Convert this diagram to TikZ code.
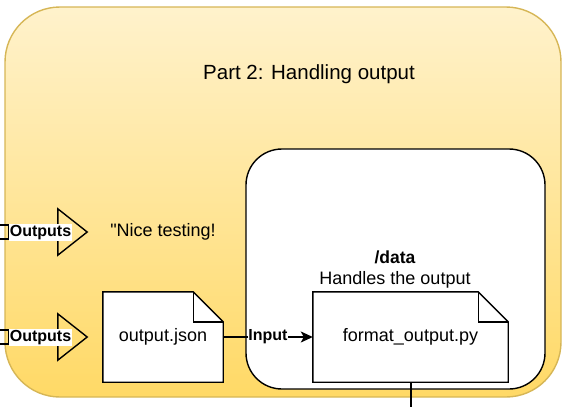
\documentclass[tikz,border=0pt]{standalone}
\usepackage{fontspec}
\setmainfont{Liberation Sans}[Ligatures=TeXOff]
\usetikzlibrary{arrows.meta,calc}
\definecolor{ybd}{HTML}{D6B656}
\definecolor{ytop}{HTML}{FFF2CC}
\definecolor{ybot}{HTML}{FFD966}
\tikzset{
  ln/.style={line width=1.4pt, draw=black},
  docbox/.style={rectangle, draw=none, minimum width=#1, minimum height=90, inner sep=0pt, font=\fontsize{18}{20}\selectfont},
  tribox/.style={rectangle, draw=none, minimum width=29, minimum height=46, inner sep=0pt},
  lbl/.style={fill=white, inner sep=1pt, font=\bfseries\fontsize{16}{18}\selectfont},
  plain/.style={inner sep=0pt, font=\fontsize{18}{20}\selectfont},
}
\begin{document}
\begin{tikzpicture}[x=1pt,y=-1pt]
\useasboundingbox (0,0) rectangle (572,407);
% outer container
\draw[draw=ybd, line width=1.4pt, top color=ytop, bottom color=ybot, rounded corners=55] (5,7) rectangle (561,397);
\node[plain, font=\fontsize{20.5}{22}\selectfont] (title) at (309,74) {Part 2: Handling output};
% inner box
\draw[ln, fill=white, rounded corners=36] (246,149) rectangle (545,389);
\node[plain, font=\bfseries\fontsize{17.5}{20}\selectfont] (data) at (395,257) {/data};
\node[plain] (handles) at (395,280) {Handles the output};
% triangles
\node[tribox] (tri1) at (72.5,232) {};
\node[tribox] (tri2) at (72.5,337) {};
\draw[ln, line join=miter] (tri1.north west) -- (tri1.east) -- (tri1.south west) -- cycle;
\draw[ln, line join=miter] (tri2.north west) -- (tri2.east) -- (tri2.south west) -- cycle;
% left brackets
\coordinate (b1a) at (0,225); \coordinate (b1b) at (8.5,225); \coordinate (b1c) at (8.5,239); \coordinate (b1d) at (0,239);
\draw[ln, line width=1.2pt] (b1a) -- (b1b) -- (b1c) -- (b1d);
\coordinate (b2a) at (0,330); \coordinate (b2b) at (8.5,330); \coordinate (b2c) at (8.5,344); \coordinate (b2d) at (0,344);
\draw[ln, line width=1.2pt] (b2a) -- (b2b) -- (b2c) -- (b2d);
\node[lbl] (out1) at (40.5,232.5) {Outputs};
\node[lbl] (out2) at (40.5,337.5) {Outputs};
% text
\node[plain] (nice) at (163,232) {"Nice testing!};
% documents
\node[docbox=120] (json) at (163,337) {output.json};
\draw[ln, fill=white, line join=miter] (json.north west) -- ($(json.north east)+(-30,0)$) -- ($(json.north east)+(0,30)$) -- (json.south east) -- (json.south west) -- cycle;
\draw[ln] ($(json.north east)+(-30,0)$) -- ($(json.north east)+(-30,30)$) -- ($(json.north east)+(0,30)$);
\node[docbox=120] at (163,337) {output.json};
\node[docbox=195] (fmt) at (410.5,337) {format\_output.py};
\draw[ln, fill=white, line join=miter] (fmt.north west) -- ($(fmt.north east)+(-30,0)$) -- ($(fmt.north east)+(0,30)$) -- (fmt.south east) -- (fmt.south west) -- cycle;
\draw[ln] ($(fmt.north east)+(-30,0)$) -- ($(fmt.north east)+(-30,30)$) -- ($(fmt.north east)+(0,30)$);
\node[docbox=195] at (410.5,337) {format\_output.py};
% connectors
\draw[ln, -{Stealth[length=12pt,width=11pt,inset=3pt]}] (json.east) -- node[lbl, fill=white, inner sep=0.5pt] (inp) {Input} (fmt.west);
\coordinate (down) at (411,407);
\draw[ln] (fmt.south -| down) -- (down);
\end{tikzpicture}
\end{document}
